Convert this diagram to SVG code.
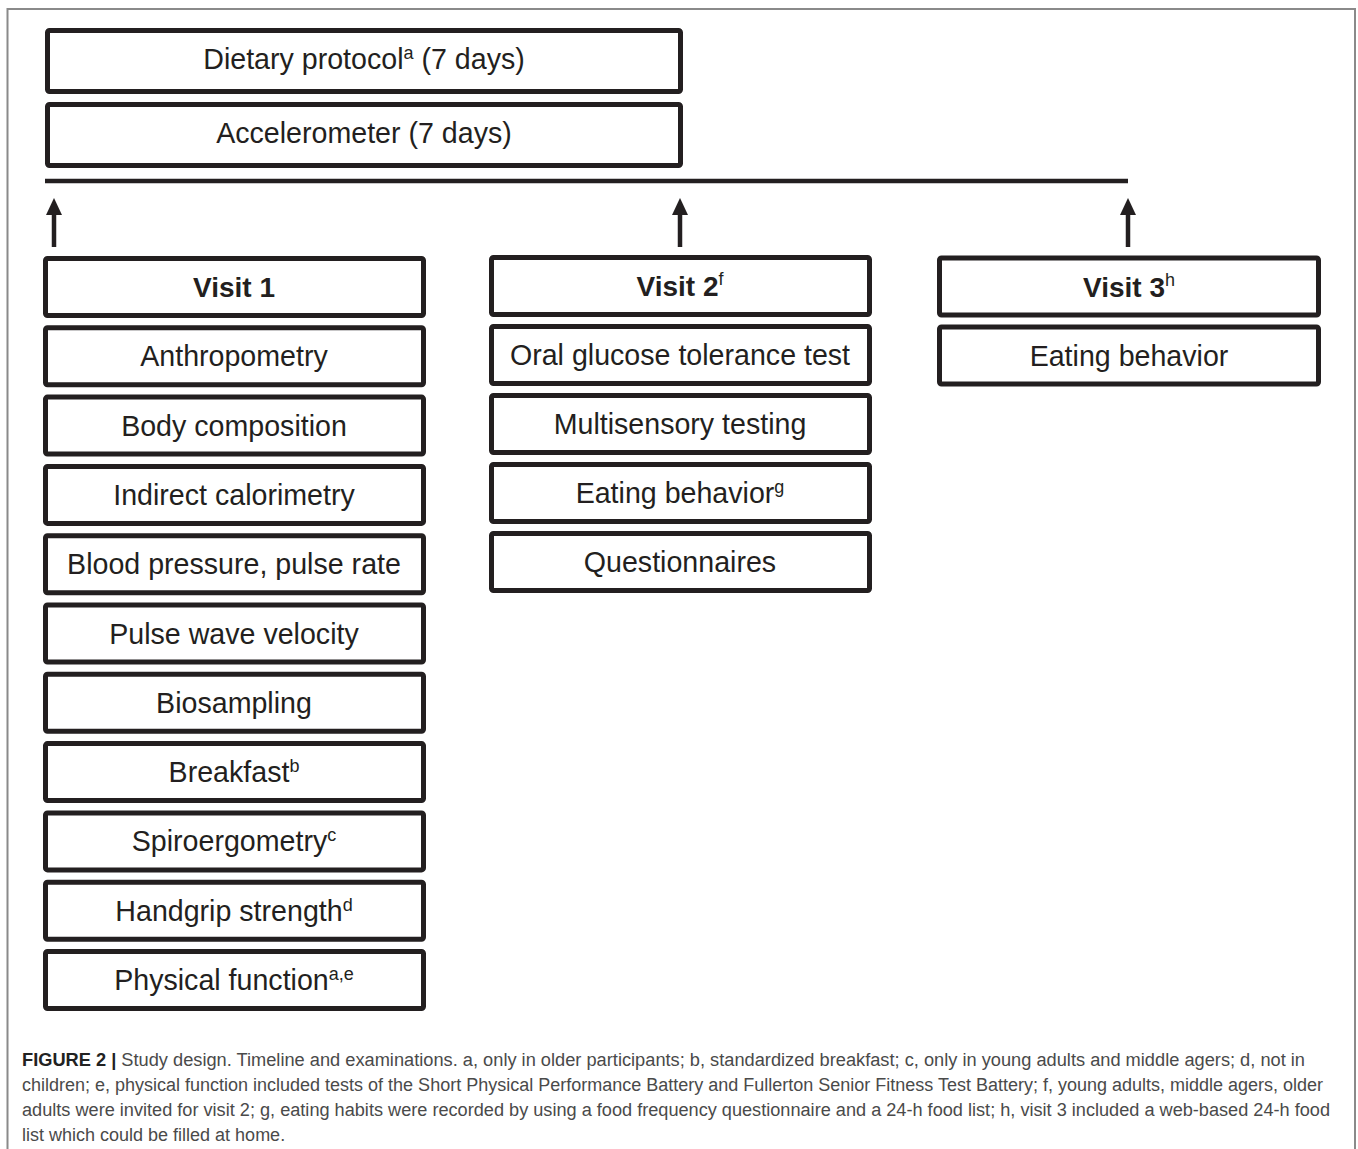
<svg xmlns="http://www.w3.org/2000/svg" width="1358" height="1149" viewBox="0 0 1358 1149">
<style>
.box{fill:#fff;stroke:#231f20;stroke-width:5;}
.t{font-family:"Liberation Sans",Arial,sans-serif;font-size:28.6px;fill:#231f20;text-anchor:middle;}
.b{font-weight:bold;font-size:28px;}
.sup{font-size:18px;}
.cap{font-family:"Liberation Sans",Arial,sans-serif;font-size:18px;fill:#4a4a4a;}
.conn{stroke:#231f20;fill:none;}
</style>
<defs>
<marker id="ah" viewBox="0 0 17 16" refX="1" refY="8" markerWidth="17" markerHeight="16" markerUnits="userSpaceOnUse" orient="auto">
<path d="M0,0 L17,8 L0,16 z" fill="#231f20"/>
</marker>
</defs>
<rect x="7.5" y="9" width="1347.5" height="1160" fill="#fff" stroke="#8a8a8a" stroke-width="2"/>

<g id="dietary"><rect class="box" x="47.5" y="30.5" width="633" height="61" rx="2"/><text class="t" x="364" y="69">Dietary protocol<tspan class="sup" dy="-10">a</tspan><tspan dy="10"> (7 days)</tspan></text></g>
<g id="accelerometer"><rect class="box" x="47.5" y="104.5" width="633" height="61" rx="2"/><text class="t" x="364" y="143">Accelerometer (7 days)</text></g>

<g id="connectors">
<line class="conn" x1="45" y1="181" x2="1128" y2="181" stroke-width="4.5"/>
<line class="conn" x1="54" y1="247" x2="54" y2="214" stroke-width="4.5" marker-end="url(#ah)"/>
<line class="conn" x1="680" y1="247" x2="680" y2="214" stroke-width="4.5" marker-end="url(#ah)"/>
<line class="conn" x1="1128" y1="247" x2="1128" y2="214" stroke-width="4.5" marker-end="url(#ah)"/>
</g>

<g id="visit1"><rect class="box" x="45.5" y="258.5" width="378" height="57" rx="2"/><text class="t b" x="234" y="297">Visit 1</text></g>
<g id="anthropometry"><rect class="box" x="45.5" y="327.8" width="378" height="57" rx="2"/><text class="t" x="234" y="366">Anthropometry</text></g>
<g id="body-composition"><rect class="box" x="45.5" y="397.1" width="378" height="57" rx="2"/><text class="t" x="234" y="436">Body composition</text></g>
<g id="indirect-calorimetry"><rect class="box" x="45.5" y="466.4" width="378" height="57" rx="2"/><text class="t" x="234" y="505">Indirect calorimetry</text></g>
<g id="blood-pressure"><rect class="box" x="45.5" y="535.7" width="378" height="57" rx="2"/><text class="t" x="234" y="574">Blood pressure, pulse rate</text></g>
<g id="pulse-wave"><rect class="box" x="45.5" y="605" width="378" height="57" rx="2"/><text class="t" x="234" y="644">Pulse wave velocity</text></g>
<g id="biosampling"><rect class="box" x="45.5" y="674.3" width="378" height="57" rx="2"/><text class="t" x="234" y="713">Biosampling</text></g>
<g id="breakfast"><rect class="box" x="45.5" y="743.6" width="378" height="57" rx="2"/><text class="t" x="234" y="782">Breakfast<tspan class="sup" dy="-10">b</tspan></text></g>
<g id="spiroergometry"><rect class="box" x="45.5" y="812.9" width="378" height="57" rx="2"/><text class="t" x="234" y="851">Spiroergometry<tspan class="sup" dy="-10">c</tspan></text></g>
<g id="handgrip"><rect class="box" x="45.5" y="882.2" width="378" height="57" rx="2"/><text class="t" x="234" y="921">Handgrip strength<tspan class="sup" dy="-10">d</tspan></text></g>
<g id="physical-function"><rect class="box" x="45.5" y="951.5" width="378" height="57" rx="2"/><text class="t" x="234" y="990">Physical function<tspan class="sup" dy="-10">a,e</tspan></text></g>

<g id="visit2"><rect class="box" x="491.5" y="257.5" width="378" height="57" rx="2"/><text class="t b" x="680" y="296">Visit 2<tspan class="sup" style="font-weight:normal" dy="-11">f</tspan></text></g>
<g id="ogtt"><rect class="box" x="491.5" y="326.5" width="378" height="57" rx="2"/><text class="t" x="680" y="365">Oral glucose tolerance test</text></g>
<g id="multisensory"><rect class="box" x="491.5" y="395.5" width="378" height="57" rx="2"/><text class="t" x="680" y="434">Multisensory testing</text></g>
<g id="eating2"><rect class="box" x="491.5" y="464.5" width="378" height="57" rx="2"/><text class="t" x="680" y="503">Eating behavior<tspan class="sup" dy="-10">g</tspan></text></g>
<g id="questionnaires"><rect class="box" x="491.5" y="533.5" width="378" height="57" rx="2"/><text class="t" x="680" y="572">Questionnaires</text></g>

<g id="visit3"><rect class="box" x="939.5" y="258" width="379" height="57" rx="2"/><text class="t b" x="1129" y="297">Visit 3<tspan class="sup" style="font-weight:normal" dy="-11">h</tspan></text></g>
<g id="eating3"><rect class="box" x="939.5" y="327" width="379" height="57" rx="2"/><text class="t" x="1129" y="366">Eating behavior</text></g>

<g id="caption">
<text class="cap" x="22" y="1066" textLength="1283" lengthAdjust="spacingAndGlyphs"><tspan font-weight="bold" fill="#222">FIGURE 2 |</tspan> Study design. Timeline and examinations. a, only in older participants; b, standardized breakfast; c, only in young adults and middle agers; d, not in</text>
<text class="cap" x="22" y="1091" textLength="1301" lengthAdjust="spacingAndGlyphs">children; e, physical function included tests of the Short Physical Performance Battery and Fullerton Senior Fitness Test Battery; f, young adults, middle agers, older</text>
<text class="cap" x="22" y="1116" textLength="1308" lengthAdjust="spacingAndGlyphs">adults were invited for visit 2; g, eating habits were recorded by using a food frequency questionnaire and a 24-h food list; h, visit 3 included a web-based 24-h food</text>
<text class="cap" x="22" y="1141">list which could be filled at home.</text>
</g>
</svg>
